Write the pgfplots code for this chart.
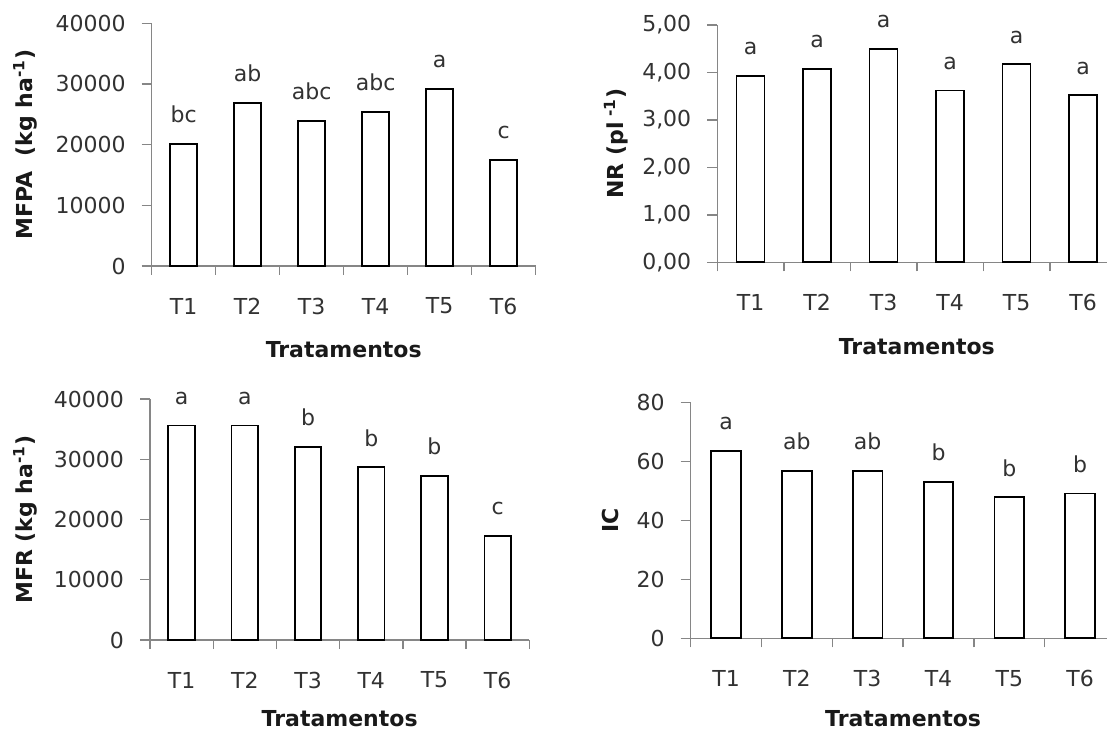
\documentclass[border=0pt]{standalone}
\usepackage{fontspec}
\setmainfont{DejaVu Sans}
\usepackage{pgfplots}
\pgfplotsset{compat=1.18}
\definecolor{axgray}{RGB}{134,134,134}
\definecolor{txt}{RGB}{50,50,50}
\pgfplotsset{
  panel/.style={
    scale only axis,
    xmin=0, xmax=6, ymin=0,
    axis x line=bottom, axis y line=left,
    axis line style={axgray, line width=0.7pt, -},
    tick align=outside,
    scaled y ticks=false,
    xtick={0.5,1.5,...,5.5},
    xticklabels={T1,T2,T3,T4,T5,T6},
    minor xtick={0,1,...,6},
    every major x tick/.style={draw=none},
    every minor tick/.append style={axgray, line width=0.7pt},
    every major tick/.append style={axgray, line width=0.7pt},
    minor tick length=4.5pt,
    major tick length=5pt,
    tick label style={font=\fontsize{11}{13}\selectfont, text=txt},
    xticklabel style={anchor=center, yshift=-15pt},
    yticklabel style={anchor=east, xshift=-4.5pt},
    /pgf/number format/assume math mode=true,
    label style={font=\bfseries\fontsize{11}{13}\selectfont, text=black!90},
    bar width=0.42,
    nodes near coords,
    point meta=explicit symbolic,
    every node near coord/.append style={inner sep=0pt, yshift=10pt, font=\fontsize{11}{13}\selectfont, text=txt},
    clip=false,
  }
}
\begin{document}
\begin{tikzpicture}
\useasboundingbox (0,0) rectangle (553.5pt,367pt);
% Panel 1: MFPA
\begin{axis}[panel, at={(75.85pt,234pt)}, anchor=origin,
  width=192pt, height=121.35pt, ymax=40000,
  ytick={0,10000,...,40000},
  yticklabel style={/pgf/number format/fixed, /pgf/number format/1000 sep={}},
  xlabel={Tratamentos},
  xlabel style={at={([yshift=-42pt]rel axis cs:0.5,0)}, anchor=center},
  ylabel={MFPA\ \ (kg ha\textsuperscript{-1})},
  ylabel style={at={([xshift=-63.35pt]rel axis cs:0,0.5)}, anchor=center}]
\addplot[ybar, draw=black, fill=white, line width=0.9pt] coordinates {
  (0.5,20150) [bc] (1.5,26900) [ab] (2.5,23900) [abc]
  (3.5,25400) [abc] (4.5,29150) [a] (5.5,17500) [c]};
\end{axis}
% Panel 2: NR
\begin{axis}[panel, at={(358.65pt,235.85pt)}, anchor=origin,
  width=199.5pt, height=118.65pt, ymax=5,
  ytick={0,1,...,5},
  yticklabel style={/pgf/number format/fixed, /pgf/number format/fixed zerofill, /pgf/number format/precision=2, /pgf/number format/use comma},
  xlabel={Tratamentos},
  xlabel style={at={([yshift=-42pt]rel axis cs:0.5,0)}, anchor=center},
  ylabel={NR (pl\textsuperscript{ -1})},
  ylabel style={at={([xshift=-50.8pt]rel axis cs:0,0.5)}, anchor=center}]
\addplot[ybar, draw=black, fill=white, line width=0.9pt] coordinates {
  (0.5,3.93) [a] (1.5,4.08) [a] (2.5,4.49) [a]
  (3.5,3.62) [a] (4.5,4.17) [a] (5.5,3.52) [a]};
\end{axis}
% Panel 3: MFR
\begin{axis}[panel, at={(75pt,47pt)}, anchor=origin,
  width=189.65pt, height=120.5pt, ymax=40000,
  ytick={0,10000,...,40000},
  yticklabel style={/pgf/number format/fixed, /pgf/number format/1000 sep={}},
  xlabel={Tratamentos},
  xlabel style={at={([yshift=-39.5pt]rel axis cs:0.5,0)}, anchor=center},
  ylabel={MFR (kg ha\textsuperscript{-1})},
  ylabel style={at={([xshift=-62.5pt]rel axis cs:0,0.5)}, anchor=center}]
\addplot[ybar, draw=black, fill=white, line width=0.9pt] coordinates {
  (0.5,35600) [a] (1.5,35600) [a] (2.5,32000) [b]
  (3.5,28650) [b] (4.5,27250) [b] (5.5,17300) [c]};
\end{axis}
% Panel 4: IC
\begin{axis}[panel, at={(345.35pt,47.85pt)}, anchor=origin,
  width=212.4pt, height=117.8pt, ymax=80,
  ytick={0,20,...,80},
  xlabel={Tratamentos},
  xlabel style={at={([yshift=-40pt]rel axis cs:0.5,0)}, anchor=center},
  ylabel={IC},
  ylabel style={at={([xshift=-40.35pt]rel axis cs:0,0.5)}, anchor=center}]
\addplot[ybar, draw=black, fill=white, line width=0.9pt] coordinates {
  (0.5,63.6) [a] (1.5,56.9) [ab] (2.5,56.9) [ab]
  (3.5,53.1) [b] (4.5,47.9) [b] (5.5,49.2) [b]};
\end{axis}
\end{tikzpicture}
\end{document}
